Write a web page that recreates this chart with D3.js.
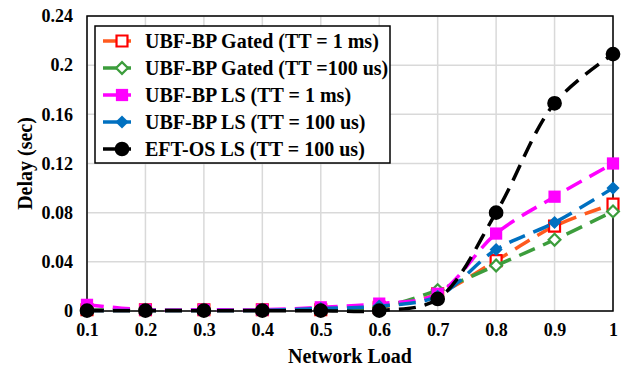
<!DOCTYPE html>
<html>
<head>
<meta charset="utf-8">
<script src="https://cdn.jsdelivr.net/npm/d3@7"></script>
<style>
  body { margin: 0; background: #fff; }
  text { font-family: "Liberation Serif", "Times New Roman", serif; font-weight: bold; fill: #000; }
</style>
</head>
<body>
<div id="main"></div>
<script>
var loads = [0.1, 0.2, 0.3, 0.4, 0.5, 0.6, 0.7, 0.8, 0.9, 1.0];
var gatedTT1ms = [0.001, 0.001, 0.001, 0.001, 0.001, 0.003, 0.014, 0.041, 0.069, 0.087];
var gatedTT100us = [0.0008, 0.0008, 0.0008, 0.0008, 0.001, 0.003, 0.017, 0.037, 0.058, 0.081];
var lsTT1ms = [0.005, 0.001, 0.001, 0.001, 0.003, 0.006, 0.014, 0.063, 0.093, 0.120];
var lsTT100us = [0.0005, 0.0005, 0.0005, 0.0005, 0.002, 0.004, 0.012, 0.050, 0.072, 0.100];
var eftTT100us = [0.0003, 0.0003, 0.0003, 0.0003, 0.0003, 0.0003, 0.0098, 0.080, 0.169, 0.209];
var xTicks = [0.1, 0.2, 0.3, 0.4, 0.5, 0.6, 0.7, 0.8, 0.9, 1];
var yTicks = [0, 0.04, 0.08, 0.12, 0.16, 0.2, 0.24];

var series = [
  { name: "UBF-BP Gated (TT = 1 ms)", values: gatedTT1ms, line: "#ff5a1e", mark: "#ff0000", shape: "square", filled: false },
  { name: "UBF-BP Gated (TT =100 us)", values: gatedTT100us, line: "#3c9d3c", mark: "#3c9d3c", shape: "diamond", filled: false },
  { name: "UBF-BP LS (TT = 1 ms)", values: lsTT1ms, line: "#ff00ff", mark: "#ff00ff", shape: "square", filled: true },
  { name: "UBF-BP LS (TT = 100 us)", values: lsTT100us, line: "#0070c0", mark: "#0070c0", shape: "diamond", filled: true },
  { name: "EFT-OS LS (TT = 100 us)", values: eftTT100us, line: "#000000", mark: "#000000", shape: "circle", filled: true }
];

var W = 627, H = 369;
var plot = { left: 87, right: 613, top: 16, bottom: 311 };

var svg = d3.select("#main").append("svg").attr("width", W).attr("height", H);

var x = d3.scaleLinear().domain([0.1, 1]).range([plot.left, plot.right]);
var y = d3.scaleLinear().domain([0, 0.24]).range([plot.bottom, plot.top]);

// gridlines
var grid = svg.append("g");
grid.selectAll("line.v").data(xTicks).enter().append("line")
  .attr("x1", d => x(d)).attr("x2", d => x(d))
  .attr("y1", plot.top).attr("y2", plot.bottom)
  .attr("stroke", "#d9d9d9").attr("stroke-width", 1.5);
grid.selectAll("line.h").data(yTicks).enter().append("line")
  .attr("x1", plot.left).attr("x2", plot.right)
  .attr("y1", d => y(d)).attr("y2", d => y(d))
  .attr("stroke", "#d9d9d9").attr("stroke-width", 1.5);

// frame
svg.append("rect")
  .attr("x", plot.left).attr("y", plot.top)
  .attr("width", plot.right - plot.left).attr("height", plot.bottom - plot.top)
  .attr("fill", "none").attr("stroke", "#000").attr("stroke-width", 1.5);

// axes
var xAxis = svg.append("g").attr("transform", `translate(0,${plot.bottom})`)
  .call(d3.axisBottom(x).tickValues(xTicks).tickSize(0).tickPadding(12).tickFormat(d3.format("")));
var yAxis = svg.append("g").attr("transform", `translate(${plot.left},0)`)
  .call(d3.axisLeft(y).tickValues(yTicks).tickSize(0).tickPadding(14).tickFormat(d => d === 0 ? "0" : d3.format("")(+d.toFixed(2))));
[xAxis, yAxis].forEach(a => {
  a.select(".domain").remove();
  a.selectAll("text").style("font-size", "18px").style("font-family", "Liberation Serif, serif").style("font-weight", "bold");
});

// axis titles
svg.append("text").attr("x", (plot.left + plot.right) / 2).attr("y", 363)
  .attr("text-anchor", "middle").style("font-size", "20px").text("Network Load");
svg.append("text")
  .attr("transform", `translate(32,${(plot.top + plot.bottom) / 2}) rotate(-90)`)
  .attr("text-anchor", "middle").style("font-size", "20px").text("Delay (sec)");

var symbolFor = function(s, size) {
  var t = s.shape === "square" ? d3.symbolSquare : s.shape === "diamond" ? d3.symbolDiamond2 : d3.symbolCircle;
  return d3.symbol().type(t).size(size)();
};
var markSize = { square: 150, diamond: 110, circle: 170 };

var line = d3.line().x((d, i) => x(loads[i])).y(d => y(d)).curve(d3.curveCatmullRom.alpha(0.5));

var marksG = svg.append("g");
series.forEach(s => {
  var g = marksG.append("g");
  g.append("path").attr("d", line(s.values))
    .attr("fill", "none").attr("stroke", s.line).attr("stroke-width", 3.5)
    .attr("stroke-dasharray", "17,9");
  g.selectAll("path.m").data(s.values).enter().append("path")
    .attr("class", "m")
    .attr("transform", (d, i) => `translate(${x(loads[i])},${y(d)})`)
    .attr("d", symbolFor(s, s.filled ? markSize[s.shape] : markSize[s.shape] * 0.8))
    .attr("fill", s.filled ? s.mark : "#fff")
    .attr("stroke", s.mark).attr("stroke-width", s.filled ? 0 : 2.2);
});

// legend
var lg = svg.append("g");
lg.append("rect").attr("x", 95).attr("y", 26).attr("width", 295).attr("height", 137)
  .attr("fill", "#fff").attr("stroke", "#000").attr("stroke-width", 1.5);
series.forEach((s, i) => {
  var ly = 41 + i * 27;
  lg.append("line").attr("x1", 103).attr("x2", 131).attr("y1", ly).attr("y2", ly)
    .attr("stroke", s.line).attr("stroke-width", 3.5);
  lg.append("path").attr("transform", `translate(122,${ly})`)
    .attr("d", symbolFor(s, s.filled ? markSize[s.shape] : markSize[s.shape] * 0.8))
    .attr("fill", s.filled ? s.mark : "#fff")
    .attr("stroke", s.mark).attr("stroke-width", s.filled ? 0 : 2.2);
  lg.append("text").attr("x", 145).attr("y", ly + 7)
    .style("font-size", "20px").text(s.name);
});
</script>
</body>
</html>
